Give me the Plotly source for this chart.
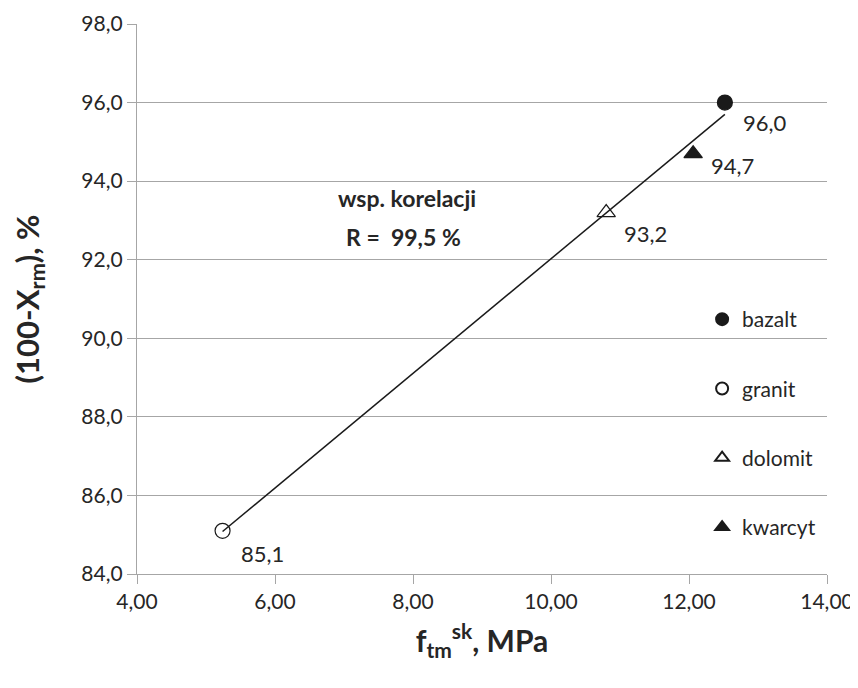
import numpy as np
import plotly.graph_objects as go

# ---- data ----
materials = ["bazalt", "granit", "dolomit", "kwarcyt"]
f_tm = [12.52, 5.24, 10.80, 12.06]          # x, MPa
residual = [96.0, 85.1, 93.2, 94.7]          # y, %
value_labels = ["96,0", "85,1", "93,2", "94,7"]
x_ticks = [4, 6, 8, 10, 12, 14]
y_ticks = [84, 86, 88, 90, 92, 94, 96, 98]
corr_lines = ["wsp. korelacji", "R =  99,5 %"]

# ---- styles ----
symbols = ["circle", "circle-open", "triangle-up-open", "triangle-up"]
FONT = "Lato, 'Open Sans', sans-serif"
TXT = "#262626"
GRID = "#a6a6a6"

fig = go.Figure()

# regression line (least squares through the data)
slope, icpt = np.polyfit(f_tm, residual, 1)
xl = np.array([min(f_tm), max(f_tm)])
fig.add_trace(go.Scatter(x=xl, y=slope * xl + icpt, mode="lines",
                         line=dict(color="#1a1a1a", width=1.5),
                         showlegend=False, hoverinfo="skip"))

for i, m in enumerate(materials):
    fig.add_trace(go.Scatter(
        x=[f_tm[i]], y=[residual[i]], mode="markers", name=m,
        legendgroup=m,
        marker=dict(symbol=symbols[i], size=16 if "triangle" in symbols[i] else 15,
                    color="#1a1a1a", line=dict(color="#1a1a1a", width=1.2)),
    ))

yshifts = [-20, -23, -21, -12]
for i in range(len(materials)):
    fig.add_annotation(x=f_tm[i], y=residual[i], text=value_labels[i],
                       showarrow=False, xanchor="left", yanchor="middle",
                       xshift=16, yshift=yshifts[i],
                       font=dict(family=FONT, size=22, color=TXT))

fig.add_annotation(xref="paper", yref="paper", x=0.392, y=0.684, text=f"<b>{corr_lines[0]}</b>",
                   showarrow=False, xanchor="center", yanchor="middle",
                   font=dict(family=FONT, size=23, color=TXT))
fig.add_annotation(xref="paper", yref="paper", x=0.386, y=0.613, text=f"<b>{corr_lines[1]}</b>",
                   showarrow=False, xanchor="center", yanchor="middle",
                   font=dict(family=FONT, size=23, color=TXT))

# white block behind legend (covers gridlines)
fig.add_shape(type="rect", xref="paper", yref="paper", x0=0.775, x1=1.0, y0=0.004, y1=0.42,
              fillcolor="white", line=dict(width=0), layer="between")

fig.update_layout(
    width=850, height=672,
    margin=dict(l=129, r=31, t=16, b=106, autoexpand=False),
    paper_bgcolor="white", plot_bgcolor="white",
    separators=", ",
    font=dict(family=FONT, size=21, color=TXT),
    showlegend=True,
    legend=dict(x=0.819, y=0.50, xanchor="left", yanchor="top",
                bgcolor="rgba(255,255,255,0)", tracegroupgap=39,
                font=dict(family=FONT, size=21, color=TXT),
                itemsizing="constant"),
    xaxis=dict(range=[4, 14], tickvals=x_ticks, tickformat=".2f",
               showgrid=False, zeroline=False, automargin=False,
               showline=True, linecolor=GRID, linewidth=1.3,
               ticks="outside", ticklen=9, tickcolor=GRID,
               title=dict(text="<b>f<sub>tm</sub><sup>sk</sup>, MPa</b>",
                          font=dict(family=FONT, size=30, color=TXT), standoff=18)),
    yaxis=dict(range=[84, 98], tickvals=y_ticks, tickformat=".1f",
               showgrid=True, gridcolor=GRID, gridwidth=1.3, zeroline=False, automargin=False,
               showline=True, linecolor=GRID, linewidth=1.3,
               ticks="outside", ticklen=9, tickcolor=GRID,
               title=dict(text="<b>(100-X<sub>rm</sub>), %</b>",
                          font=dict(family=FONT, size=31, color=TXT), standoff=34)),
)

fig.write_html("out.html")
